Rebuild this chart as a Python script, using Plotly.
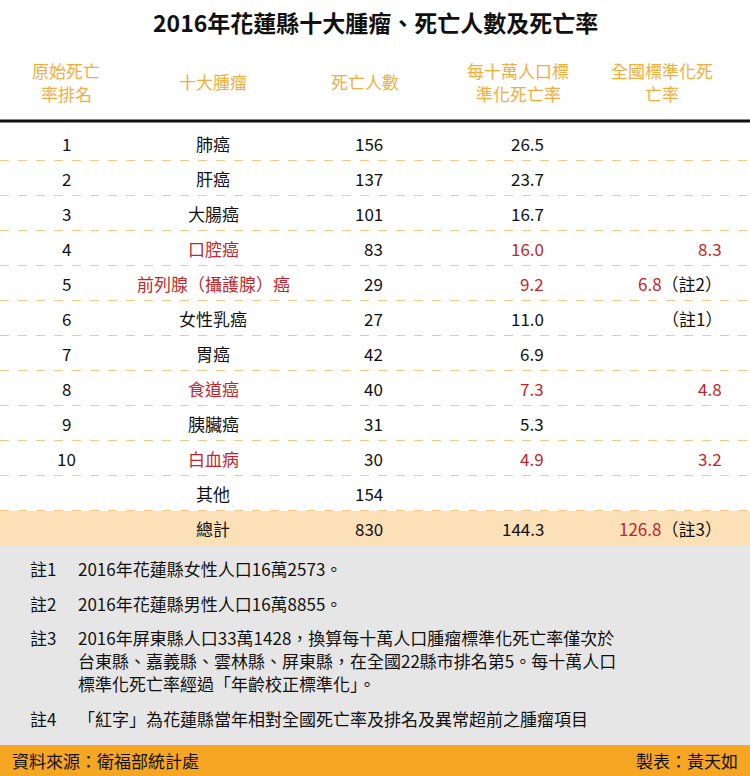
import plotly.graph_objects as go

title = "2016年花蓮縣十大腫瘤、死亡人數及死亡率"
headers = [["原始死亡", "率排名"], ["十大腫瘤"], ["死亡人數"], ["每十萬人口標", "準化死亡率"], ["全國標準化死", "亡率"]]
ranks = ["1", "2", "3", "4", "5", "6", "7", "8", "9", "10", "", ""]
cancers = ["肺癌", "肝癌", "大腸癌", "口腔癌", "前列腺（攝護腺）癌", "女性乳癌", "胃癌", "食道癌", "胰臟癌", "白血病", "其他", "總計"]
deaths = [156, 137, 101, 83, 29, 27, 42, 40, 31, 30, 154, 830]
rates = ["26.5", "23.7", "16.7", "16.0", "9.2", "11.0", "6.9", "7.3", "5.3", "4.9", "", "144.3"]
national = ["", "", "", "8.3", "6.8", "", "", "4.8", "", "3.2", "", "126.8"]
national_note = ["", "", "", "", "（註2）", "（註1）", "", "", "", "", "", "（註3）"]
red_rows = [3, 4, 7, 9]
notes = [
    ("註1", ["2016年花蓮縣女性人口16萬2573。"]),
    ("註2", ["2016年花蓮縣男性人口16萬8855。"]),
    ("註3", ["2016年屏東縣人口33萬1428，換算每十萬人口腫瘤標準化死亡率僅次於",
             "台東縣、嘉義縣、雲林縣、屏東縣，在全國22縣市排名第5。每十萬人口",
             "標準化死亡率經過「年齡校正標準化」。"]),
    ("註4", ["「紅字」為花蓮縣當年相對全國死亡率及排名及異常超前之腫瘤項目"]),
]
source = "資料來源：衛福部統計處"
author = "製表：黃天如"

RED = "#c0272d"
ORANGE = "#f5a623"
HDR = "#f3ad3c"
FONT = "Noto Sans CJK TC"

fig = go.Figure()
shapes = []
ann = []

def A(x, y, text, size=17, color="#111", xanchor="center"):
    ann.append(dict(x=x, y=y, text=text, xref="x", yref="y", showarrow=False,
                    xanchor=xanchor, yanchor="middle",
                    font=dict(family=FONT, size=size, color=color)))

A(375, 22, "<b>" + title + "</b>", size=23)
hx = [66, 213, 365, 518, 662]
for x, h in zip(hx, headers):
    if len(h) == 1:
        A(x, 81, h[0], size=17, color=HDR)
    else:
        A(x, 70, h[0], size=17, color=HDR)
        A(x, 93, h[1], size=17, color=HDR)

shapes.append(dict(type="line", x0=0, x1=750, y0=121, y1=121, line=dict(color="#111", width=3), xref="x", yref="y"))

row_y0 = 143
step = 35
shapes.append(dict(type="rect", x0=0, x1=750, y0=511, y1=545, fillcolor="#fbe0b8", line=dict(width=0), xref="x", yref="y", layer="below"))
shapes.append(dict(type="rect", x0=0, x1=750, y0=545, y1=745, fillcolor="#e6e6e6", line=dict(width=0), xref="x", yref="y", layer="below"))
shapes.append(dict(type="rect", x0=0, x1=750, y0=745, y1=776, fillcolor=ORANGE, line=dict(width=0), xref="x", yref="y", layer="below"))

for i in range(len(cancers)):
    y = row_y0 + i * step
    if i < len(cancers) - 1:
        shapes.append(dict(type="line", x0=0, x1=750, y0=y + 17.5, y1=y + 17.5,
                           line=dict(color="#f3c98a", width=1, dash="dash"), xref="x", yref="y"))
    red = i in red_rows
    A(66, y, ranks[i])
    A(213, y, cancers[i], color=RED if red else "#111")
    A(385, y, str(deaths[i]), xanchor="right")
    if rates[i]:
        A(546, y, rates[i], color=RED if red else "#111", xanchor="right")
    txt = ""
    if national[i]:
        txt += "<span style='color:%s'>%s</span>" % (RED if (red or i == 11) else "#111", national[i])
    if national_note[i]:
        txt += "<span style='color:#111'>%s</span>" % national_note[i]
    if txt:
        A(724, y, txt, xanchor="right")

ny = [568, 603, 637, 718]
for (k, lines), y in zip(notes, ny):
    A(28, y, k, xanchor="left")
    for j, t in enumerate(lines):
        A(76, y + j * 23, t, xanchor="left")
A(10, 760, source, xanchor="left")
A(740, 760, author, xanchor="right")

fig.update_layout(width=750, height=776, margin=dict(l=0, r=0, t=0, b=0),
                  plot_bgcolor="white", paper_bgcolor="white",
                  xaxis=dict(range=[0, 750], visible=False, fixedrange=True),
                  yaxis=dict(range=[776, 0], visible=False, fixedrange=True),
                  shapes=shapes, annotations=ann, showlegend=False)
fig.write_html("out.html", config={"displayModeBar": False})
with open("out.html", encoding="utf-8") as f:
    html = f.read()
html = html.replace("<body>", "<body style=\"margin:0;overflow:hidden\">", 1)
with open("out.html", "w", encoding="utf-8") as f:
    f.write(html)
